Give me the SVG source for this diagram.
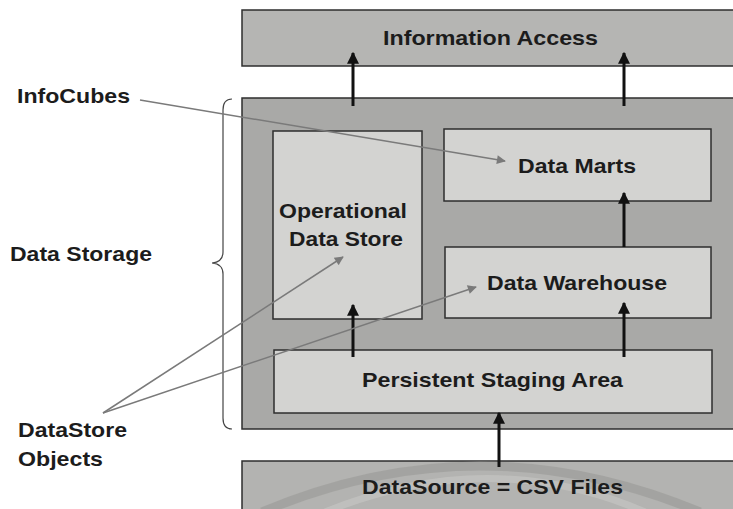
<svg xmlns="http://www.w3.org/2000/svg" width="733" height="509" viewBox="0 0 733 509">
<defs>
<marker id="blk" viewBox="0 0 10 10" refX="9" refY="5" markerWidth="4" markerHeight="4" orient="auto" markerUnits="strokeWidth">
<path d="M0,0 L10,5 L0,10 z" fill="#111"/>
</marker>
<marker id="gry" viewBox="0 0 10 10" refX="9" refY="5" markerWidth="7" markerHeight="6" orient="auto" markerUnits="strokeWidth">
<path d="M0,0 L10,5 L0,10 z" fill="#7a7a7a"/>
</marker>
</defs>
<style>
text{font-family:"Liberation Sans",Arial,sans-serif;font-weight:bold;font-size:21px;fill:#1c1c1c}
.outer{stroke:#2e2e2e;stroke-width:1.5}
.inner{fill:#d3d3d1;stroke:#2e2e2e;stroke-width:1.5}
.arr{stroke:#111;stroke-width:3;fill:none;marker-end:url(#blk)}
.ptr{stroke:#7a7a7a;stroke-width:1.5;fill:none;marker-end:url(#gry)}
</style>
<rect width="733" height="509" fill="#ffffff"/>

<g id="information-access">
<rect class="outer" x="242" y="10" width="495" height="56" fill="#b5b5b3"/>
<text x="383" y="45" textLength="215" lengthAdjust="spacingAndGlyphs">Information Access</text>
</g>

<g id="data-storage-area">
<rect class="outer" x="242" y="98" width="495" height="331" fill="#a9a9a7"/>
</g>

<g id="datasource">
<rect class="outer" x="242" y="461" width="495" height="60" fill="#b3b3b1"/>
<path d="M262,512 Q480,420 700,512" fill="none" stroke="#9c9c9a" stroke-width="9" opacity="0.7"/>
<path d="M325,512 Q490,445 645,512" fill="none" stroke="#c4c4c2" stroke-width="7" opacity="0.7"/>
<text x="362" y="494" textLength="261" lengthAdjust="spacingAndGlyphs">DataSource = CSV Files</text>
</g>

<g id="ods">
<rect class="inner" x="273" y="131" width="149" height="188"/>
<text x="279" y="218" textLength="128" lengthAdjust="spacingAndGlyphs">Operational</text>
<text x="289" y="246" textLength="114" lengthAdjust="spacingAndGlyphs">Data Store</text>
</g>

<g id="data-marts">
<rect class="inner" x="444" y="129" width="267" height="72"/>
<text x="518" y="173" textLength="118" lengthAdjust="spacingAndGlyphs">Data Marts</text>
</g>

<g id="data-warehouse">
<rect class="inner" x="445" y="247" width="266" height="71"/>
<text x="487" y="290" textLength="180" lengthAdjust="spacingAndGlyphs">Data Warehouse</text>
</g>

<g id="psa">
<rect class="inner" x="274" y="350" width="438" height="63"/>
<text x="362" y="387" textLength="261" lengthAdjust="spacingAndGlyphs">Persistent Staging Area</text>
</g>

<g id="labels">
<text x="17" y="103" textLength="113" lengthAdjust="spacingAndGlyphs">InfoCubes</text>
<text x="10" y="261" textLength="142" lengthAdjust="spacingAndGlyphs">Data Storage</text>
<text x="18" y="437" textLength="109" lengthAdjust="spacingAndGlyphs">DataStore</text>
<text x="18" y="466" textLength="85" lengthAdjust="spacingAndGlyphs">Objects</text>
<path d="M232,99 Q223,99 223,110 L223,252 Q223,262 212,263 Q223,264 223,274 L223,418 Q223,429 232,429" fill="none" stroke="#444" stroke-width="1.2"/>
</g>

<g id="connectors">
<line class="arr" x1="353" y1="106" x2="353" y2="53"/>
<line class="arr" x1="624" y1="106" x2="624" y2="53"/>
<line class="arr" x1="624" y1="247" x2="624" y2="193"/>
<line class="arr" x1="353" y1="357" x2="353" y2="305"/>
<line class="arr" x1="624" y1="357" x2="624" y2="303"/>
<line class="arr" x1="499" y1="467" x2="499" y2="413"/>
<line class="ptr" x1="140" y1="100" x2="505" y2="161"/>
<line class="ptr" x1="103" y1="413" x2="343" y2="257"/>
<line class="ptr" x1="103" y1="413" x2="476" y2="287"/>
</g>
</svg>
